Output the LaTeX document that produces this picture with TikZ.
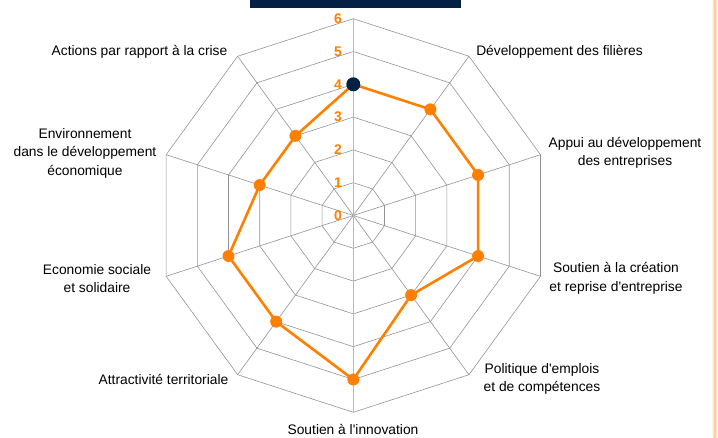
\documentclass[tikz,border=0pt]{standalone}
\usepackage{fontspec}
\setmainfont{Liberation Sans}
\usetikzlibrary{calc}
\definecolor{chartorange}{RGB}{255,128,0}
\definecolor{chartnavy}{RGB}{3,33,68}
\newcommand{\unitr}{32.8}

\begin{document}
\begin{tikzpicture}[x=1pt,y=1pt,
  gridline/.style={draw=gray!85,line width=0.6pt},
  axisline/.style={draw=gray!55,line width=1.2pt},
  dot/.style={circle,fill=chartorange,inner sep=0pt,minimum size=12pt},
  topdot/.style={circle,fill=chartnavy,inner sep=0pt,minimum size=14pt},
  lab/.style={align=center,inner sep=0pt,font=\fontsize{13.8}{18.5}\selectfont},
  num/.style={anchor=east,inner sep=0pt,text=chartorange,font=\fontsize{14}{14}\selectfont\bfseries}]
\useasboundingbox (0,0) rectangle (718,437);
\coordinate (c) at (353.3,221.5);
%title box and border
\fill[chartnavy] (250,437) rectangle (461,428.7);
\shade[left color=orange!15,right color=orange!15,middle color=orange!45] (712.5,0) rectangle (716.5,437);
%grid
\begin{scope}[shift={(c)}]
\foreach \k in {0,...,9}
  \coordinate (v\k) at (90-36*\k:{6*\unitr});
\foreach \l in {1,...,6}
  \draw[gridline] (90:{\l*\unitr}) \foreach \k in {1,...,9}{ -- (90-36*\k:{\l*\unitr})} -- cycle;
\foreach \k in {1,2,3,4,6,7,8,9}
  \draw[gridline] (c) -- (v\k);
\draw[axisline] (v5) -- (v0);
%values
\foreach \v [count=\k from 0] in {4,4,4,4,3,5,4,4,3,3}
  \coordinate (p\k) at (90-36*\k:{\v*\unitr});
\end{scope}
\draw[chartorange,line width=2.6pt,line join=round] (p0) \foreach \k in {1,...,9}{ -- (p\k)} -- cycle;
\foreach \k in {1,...,9}
  \node[dot] (d\k) at (p\k) {};
\node[topdot] (d0) at (p0) {};
%scale
\foreach \l in {0,...,6}
  \node[num] (n\l) at (342,{221.5+\l*\unitr}) {\l};
%labels
\node[lab] (lcrise) at (139.5,385) {Actions par rapport à la crise};
\node[lab] (lfilieres) at (559.5,385) {Développement des filières};
\node[lab] (lappui) at (625,284) {Appui au développement\\des entreprises};
\node[lab] (lcreation) at (616,158.5) {Soutien à la création\\et reprise d\textquotesingle entreprise};
\node[lab] (lemplois) at (542,58) {Politique d\textquotesingle emplois\\et de compétences};
\node[lab] (linnov) at (353,7.5) {Soutien à l\textquotesingle innovation};
\node[lab] (lattract) at (163.5,58) {Attractivité territoriale};
\node[lab] (lsociale) at (97,158.5) {Economie sociale\\et solidaire};
\node[lab] (lenviron) at (85,284) {Environnement\\dans le développement\\économique};
\end{tikzpicture}
\end{document}
